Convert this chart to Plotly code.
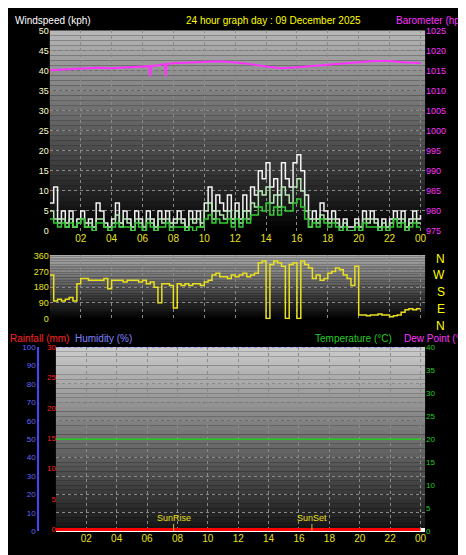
import plotly.graph_objects as go

# 15-minute wind data (kph), 00:00 .. 24:00
gust = [7, 11, 3, 5, 2, 5, 1, 3,
        5, 2, 3, 1, 7, 5, 2, 1,
        3, 7, 2, 5, 3, 1, 5, 3,
        1, 5, 3, 1, 5, 3, 5, 2,
        3, 5, 3, 1, 5, 3, 5, 2,
        7, 11, 5, 9, 7, 5, 9, 3,
        7, 3, 9, 5, 11, 9, 15, 13,
        17, 11, 13, 9, 17, 13, 11, 17,
        19, 15, 9, 3, 5, 3, 7, 5,
        3, 5, 3, 1, 3, 1, 1, 3,
        1, 5, 3, 5, 3, 1, 3, 1,
        3, 5, 3, 5, 1, 3, 5, 3, 4]
wind = [5, 3, 2, 3, 1, 3, 1, 2,
        3, 1, 2, 0, 3, 3, 1, 0,
        2, 4, 1, 3, 2, 0, 3, 2,
        0, 3, 2, 0, 3, 2, 3, 1,
        2, 3, 2, 0, 3, 2, 3, 1,
        5, 7, 3, 5, 4, 3, 5, 2,
        5, 2, 5, 3, 7, 6, 10, 9,
        11, 7, 9, 6, 11, 9, 7, 11,
        13, 10, 5, 1, 3, 2, 4, 3,
        2, 3, 2, 0, 2, 0, 0, 2,
        0, 3, 2, 3, 2, 0, 2, 0,
        2, 3, 2, 3, 0, 2, 3, 2, 2]
avg_wind = [3, 2, 1, 2, 1, 2, 1, 2,
            3, 1, 1, 0, 2, 2, 1, 0,
            1, 2, 1, 1, 1, 0, 2, 1,
            0, 2, 1, 0, 1, 1, 2, 0,
            1, 1, 1, 0, 1, 0, 1, 1,
            3, 4, 2, 3, 2, 2, 3, 1,
            3, 1, 3, 2, 4, 4, 6, 5,
            7, 4, 6, 4, 6, 5, 5, 7,
            8, 6, 3, 1, 2, 1, 3, 2,
            1, 2, 1, 0, 1, 0, 0, 1,
            0, 2, 1, 1, 1, 0, 1, 0,
            1, 3, 1, 2, 0, 1, 2, 1, 1]
wind_hours = [i * 0.25 for i in range(len(gust))]

baro_hours = [0, 1, 2, 3, 4, 5, 6, 6.45, 6.5, 6.55, 7, 7.45, 7.5, 7.55, 8, 9, 10,
              11, 12, 13, 14, 15, 16, 17, 18, 19, 20, 21, 22, 23, 24]
baro = [1015.1, 1015.3, 1015.4, 1015.7, 1015.6, 1015.8, 1016.0, 1016.1, 1013.5, 1016.1,
        1016.3, 1016.6, 1013.5, 1016.6, 1016.8, 1017.0, 1017.2, 1017.3, 1017.0, 1016.6,
        1016.0, 1015.6, 1015.8, 1016.1, 1016.4, 1016.8, 1017.0, 1017.4, 1017.4, 1017.0, 1016.9]

# 15-minute wind direction (degrees)
direction = [250, 100, 110, 100, 110, 120, 100, 200,
             230, 230, 220, 220, 220, 220, 230, 170,
             220, 220, 220, 210, 220, 220, 220, 210,
             220, 200, 210, 180, 90, 200, 200, 190,
             60, 200, 190, 200, 190, 200, 200, 190,
             210, 220, 250, 260, 240, 240, 230, 250,
             240, 250, 260, 240, 250, 260, 320, 330,
             0, 310, 330, 320, 300, 0, 310, 320,
             0, 330, 310, 290, 230, 250, 220, 230,
             260, 270, 290, 280, 250, 230, 190, 300,
             20, 20, 15, 20, 20, 25, 20, 20,
             10, 15, 20, 35, 50, 55, 50, 55, 55]

hours = list(range(25))
humidity = [100] * 25
temperature = [20] * 25
rainfall = [0] * 25

tick_vals = list(range(2, 25, 2))
tick_text = ["02", "04", "06", "08", "10", "12", "14", "16", "18", "20", "22", "00"]

FONT = "Liberation Sans"
fig = go.Figure()

fig.add_trace(go.Scatter(x=baro_hours, y=baro, yaxis="y2", mode="lines",
                         line=dict(color="#ff33ff", width=2)))
fig.add_trace(go.Scatter(x=wind_hours, y=gust, mode="lines", line_shape="hv",
                         line=dict(color="#f4f4f4", width=1.5)))
fig.add_trace(go.Scatter(x=wind_hours, y=wind, mode="lines", line_shape="hv",
                         line=dict(color="#b8e8b8", width=1.5)))
fig.add_trace(go.Scatter(x=wind_hours, y=avg_wind, mode="lines", line_shape="hv",
                         line=dict(color="#33cc33", width=1.5)))
fig.add_trace(go.Scatter(x=wind_hours, y=direction, xaxis="x2", yaxis="y3", mode="lines",
                         line_shape="hv", line=dict(color="#e8e020", width=1.5)))
fig.add_trace(go.Scatter(x=hours, y=humidity, xaxis="x3", yaxis="y4", mode="lines",
                         line=dict(color="#8080ff", width=1.5, dash="dot")))
fig.add_trace(go.Scatter(x=hours, y=temperature, xaxis="x3", yaxis="y6", mode="lines",
                         line=dict(color="#22cc22", width=1.5)))
fig.add_trace(go.Scatter(x=hours, y=rainfall, xaxis="x3", yaxis="y5", mode="lines",
                         line=dict(color="#ff0000", width=3)))

grid = dict(showgrid=True, gridcolor="#8a8a8a", griddash="dot", gridwidth=1, zeroline=False)
xcommon = dict(range=[0, 24.3], tickvals=tick_vals, ticktext=tick_text, ticks="",
               tickfont=dict(color="#e8e020", size=10, family=FONT), **grid)

dom_x = [0.09, 0.897]
fig.update_layout(
    width=466, height=555, margin=dict(l=0, r=0, t=0, b=0),
    paper_bgcolor="black", plot_bgcolor="black", showlegend=False,
    xaxis=dict(domain=dom_x, anchor="y", **xcommon),
    yaxis=dict(domain=[0.6, 0.968], range=[0, 50], dtick=5,
               tickfont=dict(color="#ffffcc", size=9, family=FONT), **grid),
    yaxis2=dict(overlaying="y", side="right", range=[975, 1025], dtick=5, showgrid=False,
                tickfont=dict(color="#ff33ff", size=9, family=FONT)),
    xaxis2=dict(domain=dom_x, anchor="y3", showticklabels=False,
                **{k: v for k, v in xcommon.items()}),
    yaxis3=dict(domain=[0.438, 0.556], range=[-5, 365], tickvals=[0, 90, 180, 270, 360],
                tickfont=dict(color="#e8e020", size=9, family=FONT), **grid),
    xaxis3=dict(domain=[0.103, 0.897], anchor="y4", **xcommon),
    yaxis4=dict(domain=[0.049, 0.387], range=[0, 100], dtick=10, anchor="free",
                position=0.065, showline=True, linecolor="#4444ff", linewidth=2,
                tickfont=dict(color="#6666ff", size=8, family=FONT), **grid),
    yaxis5=dict(overlaying="y4", range=[-0.3, 30], dtick=5, anchor="free", position=0.103,
                showgrid=False, tickfont=dict(color="#ff2020", size=8, family=FONT)),
    yaxis6=dict(overlaying="y4", side="right", anchor="x3", range=[0, 40], dtick=5,
                showgrid=False, tickfont=dict(color="#22cc22", size=8, family=FONT)),
)

# gradient backgrounds made of thin bands
shapes = []
for xref, yref, top, bottom in [("x", "y", 185, 0), ("x2", "y3", 175, 0), ("x3", "y4", 205, 20)]:
    n = 40
    for i in range(n):
        g = int(bottom + (top - bottom) * (i + 0.5) / n)
        shapes.append(dict(type="rect", xref=xref + " domain", yref=yref + " domain",
                           x0=0, x1=1, y0=i / n, y1=(i + 1) / n, layer="below",
                           line_width=0, fillcolor=f"rgb({g},{g},{g})"))
fig.update_layout(shapes=shapes)

ann = [
    dict(text="Windspeed (kph)", x=0.01, y=1.0, color="white", xa="left"),
    dict(text="24 hour graph day : 09 December 2025", x=0.57, y=1.0, color="#ffff00", xa="center"),
    dict(text="Barometer (hpa)", x=0.995, y=1.0, color="#ff33ff", xa="right"),
    dict(text="Rainfall (mm)", x=0.0, y=0.416, color="#ff2020", xa="left"),
    dict(text="Humidity (%)", x=0.14, y=0.416, color="#8080ff", xa="left"),
    dict(text="Temperature (°C)", x=0.655, y=0.416, color="#22cc22", xa="left"),
    dict(text="Dew Point (°C)", x=0.998, y=0.416, color="#ff33ff", xa="right"),
]
for a in ann:
    fig.add_annotation(text=a["text"], x=a["x"], y=a["y"], xref="paper", yref="paper",
                       xanchor=a["xa"], yanchor="top", showarrow=False,
                       font=dict(color=a["color"], size=10, family=FONT))
for i, letter in enumerate(["N", "W", "S", "E", "N"]):
    fig.add_annotation(text=letter, x=0.945, y=0.566 - i * 0.031, xref="paper", yref="paper",
                       showarrow=False, yanchor="top", font=dict(color="#ffff00", size=12, family=FONT))

sun_times = [7.75, 16.85]
sun_labels = ["SunRise", "SunSet"]
for t, lab in zip(sun_times, sun_labels):
    fig.add_shape(type="line", xref="x3", yref="y4", x0=t, x1=t, y0=0, y1=4,
                  line=dict(color="#c8c040", width=1))
    fig.add_annotation(text=lab, x=t, y=7, xref="x3", yref="y4", showarrow=False,
                       font=dict(color="#e8e020", size=9, family=FONT))

fig.write_html("out.html")
